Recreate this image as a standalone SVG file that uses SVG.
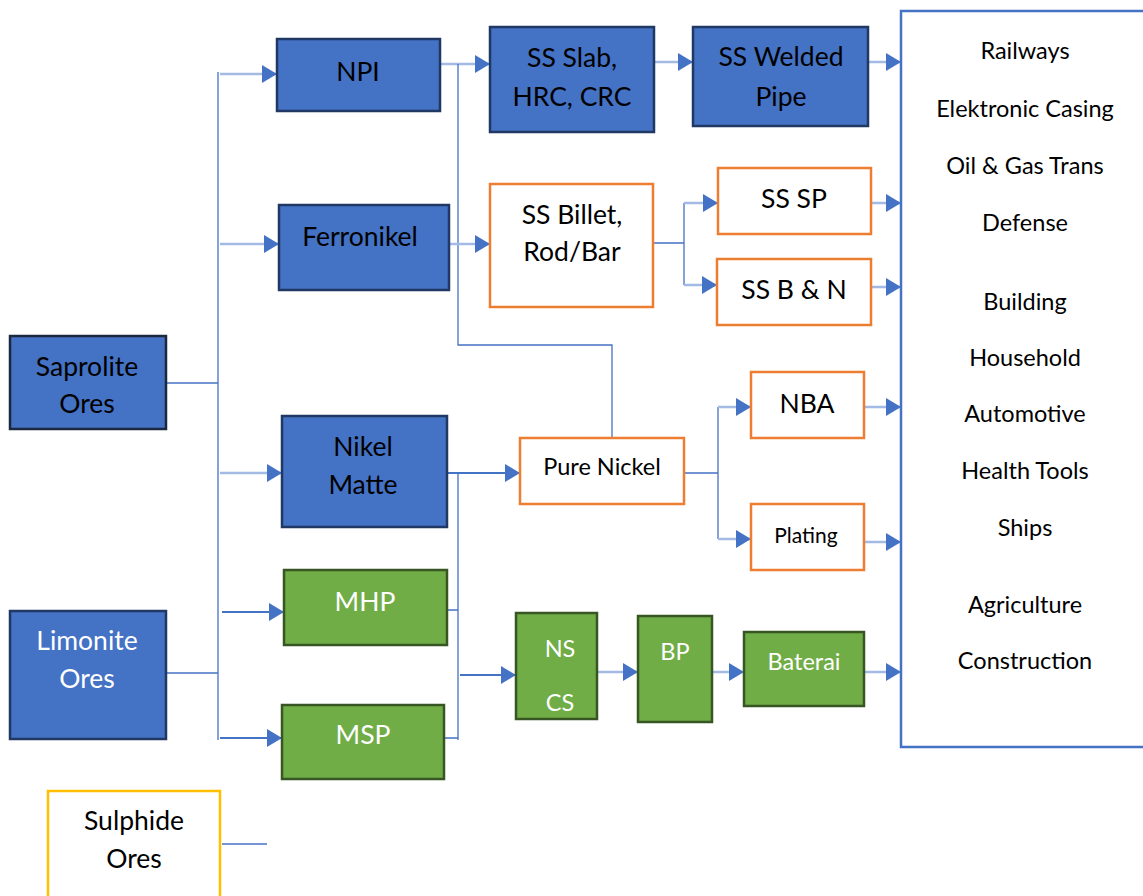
<svg xmlns="http://www.w3.org/2000/svg" width="1143" height="896" viewBox="0 0 1143 896">
<defs>
<marker id="ah" viewBox="0 0 15 18" markerWidth="15" markerHeight="18" refX="15" refY="9" orient="auto" markerUnits="userSpaceOnUse"><path d="M0,0 L15,9 L0,18 Z" fill="#4472C4"/></marker>
<style>
.blue{fill:#4472C4;stroke:#203864;stroke-width:2.5}
.green{fill:#70AD47;stroke:#375623;stroke-width:2.5}
.orange{fill:#fff;stroke:#ED7D31;stroke-width:2.5}
.yellow{fill:#fff;stroke:#FFC000;stroke-width:2.5}
.t{font-family:Lato,"Open Sans",sans-serif;font-size:26.5px;text-anchor:middle;fill:#000}
.w{fill:#fff}
.s{font-size:23.5px}
.xs{font-size:21px}
.list{font-family:Lato,"Open Sans",sans-serif;font-size:23.5px;text-anchor:middle;fill:#000}
.ln{fill:none;stroke:#4472C4;stroke-width:1.3}
.sh{fill:none;stroke:#A3BAE4;stroke-width:2.5;marker-end:url(#ah)}
.shd{fill:none;stroke:#4472C4;stroke-width:2;marker-end:url(#ah)}
</style>
</defs>
<rect width="1143" height="896" fill="#fff"/>
<g id="connectors">
<path class="ln" d="M218,72 V740"/>
<path class="ln" d="M166,383 H218"/>
<path class="ln" d="M166,673 H218"/>
<path class="ln" d="M222,844 H267"/>
<path class="sh" d="M220,74 H277"/>
<path class="sh" d="M220,244 H279"/>
<path class="sh" d="M220,473 H282"/>
<path class="shd" d="M222,612 H284"/>
<path class="shd" d="M220,738 H282"/>
<path class="sh" d="M440,64 H490"/>
<path class="ln" d="M458,64 V345 H612 V438"/>
<path class="sh" d="M654,62 H693"/>
<path class="sh" d="M868,62 H901"/>
<path class="sh" d="M449,244 H490"/>
<path class="ln" d="M653,243 H684 M684,203 V285"/>
<path class="sh" d="M684,203 H718"/>
<path class="sh" d="M684,285 H717"/>
<path class="sh" d="M871,203 H901"/>
<path class="sh" d="M871,287 H901"/>
<path class="shd" d="M447,473 H520"/>
<path class="ln" d="M458,473 V740"/>
<path class="ln" d="M447,610 H458 M444,738 H458"/>
<path class="shd" d="M460,675 H516"/>
<path class="ln" d="M684,473 H718 M718,407 V539"/>
<path class="sh" d="M718,407 H751"/>
<path class="sh" d="M718,539 H751"/>
<path class="sh" d="M864,407 H901"/>
<path class="sh" d="M864,542 H901"/>
<path class="sh" d="M597,672 H638"/>
<path class="sh" d="M712,672 H744"/>
<path class="sh" d="M864,672 H901"/>
</g>
<g id="saprolite"><rect class="blue" x="10" y="336" width="156" height="93" style="stroke:#1C2840"/><text class="t" x="87" y="376">Saprolite</text><text class="t" x="87" y="413">Ores</text></g>
<g id="limonite"><rect class="blue" x="10" y="611" width="156" height="128"/><text class="t w" x="87" y="650">Limonite</text><text class="t w" x="87" y="688">Ores</text></g>
<g id="sulphide"><rect class="yellow" x="48" y="791" width="172" height="120"/><text class="t" x="134" y="830">Sulphide</text><text class="t" x="134" y="868">Ores</text></g>
<g id="npi"><rect class="blue" x="277" y="39" width="163" height="72"/><text class="t" x="358" y="81">NPI</text></g>
<g id="ferronikel"><rect class="blue" x="279" y="205" width="170" height="85"/><text class="t" x="360" y="246">Ferronikel</text></g>
<g id="nikelmatte"><rect class="blue" x="282" y="416" width="165" height="111"/><text class="t" x="363" y="456">Nikel</text><text class="t" x="363" y="494">Matte</text></g>
<g id="mhp"><rect class="green" x="284" y="570" width="163" height="75"/><text class="t w" x="365" y="611">MHP</text></g>
<g id="msp"><rect class="green" x="282" y="705" width="162" height="74"/><text class="t w" x="363" y="744">MSP</text></g>
<g id="ssslab"><rect class="blue" x="490" y="27" width="164" height="105"/><text class="t" x="572" y="67">SS Slab,</text><text class="t" x="572" y="106">HRC, CRC</text></g>
<g id="sswelded"><rect class="blue" x="693" y="27" width="175" height="99"/><text class="t" x="781" y="66">SS Welded</text><text class="t" x="781" y="106">Pipe</text></g>
<g id="ssbillet"><rect class="orange" x="490" y="184" width="163" height="123"/><text class="t" x="572" y="224">SS Billet,</text><text class="t" x="572" y="261">Rod/Bar</text></g>
<g id="sssp"><rect class="orange" x="718" y="168" width="153" height="66"/><text class="t" x="794" y="208">SS SP</text></g>
<g id="ssbn"><rect class="orange" x="717" y="259" width="154" height="66"/><text class="t" x="794" y="299">SS B &amp; N</text></g>
<g id="purenickel"><rect class="orange" x="520" y="438" width="164" height="66"/><text class="t s" x="602" y="475">Pure Nickel</text></g>
<g id="nba"><rect class="orange" x="751" y="372" width="113" height="66"/><text class="t" x="807" y="413">NBA</text></g>
<g id="plating"><rect class="orange" x="751" y="504" width="113" height="66"/><text class="t xs" x="806" y="543">Plating</text></g>
<g id="nscs"><rect class="green" x="516" y="613" width="81" height="106"/><text class="t w s" x="560" y="657">NS</text><text class="t w s" x="560" y="711">CS</text></g>
<g id="bp"><rect class="green" x="638" y="616" width="74" height="106"/><text class="t w s" x="675" y="660">BP</text></g>
<g id="baterai"><rect class="green" x="744" y="632" width="120" height="74"/><text class="t w s" x="804" y="670">Baterai</text></g>
<g id="uses"><rect x="901" y="11" width="260" height="736" fill="#fff" stroke="#4472C4" stroke-width="2.5"/>
<text class="list" x="1025" y="59">Railways</text>
<text class="list" x="1025" y="117">Elektronic Casing</text>
<text class="list" x="1025" y="174">Oil &amp; Gas Trans</text>
<text class="list" x="1025" y="231">Defense</text>
<text class="list" x="1025" y="310">Building</text>
<text class="list" x="1025" y="366">Household</text>
<text class="list" x="1025" y="422">Automotive</text>
<text class="list" x="1025" y="479">Health Tools</text>
<text class="list" x="1025" y="536">Ships</text>
<text class="list" x="1025" y="613">Agriculture</text>
<text class="list" x="1025" y="669">Construction</text>
</g>
</svg>
